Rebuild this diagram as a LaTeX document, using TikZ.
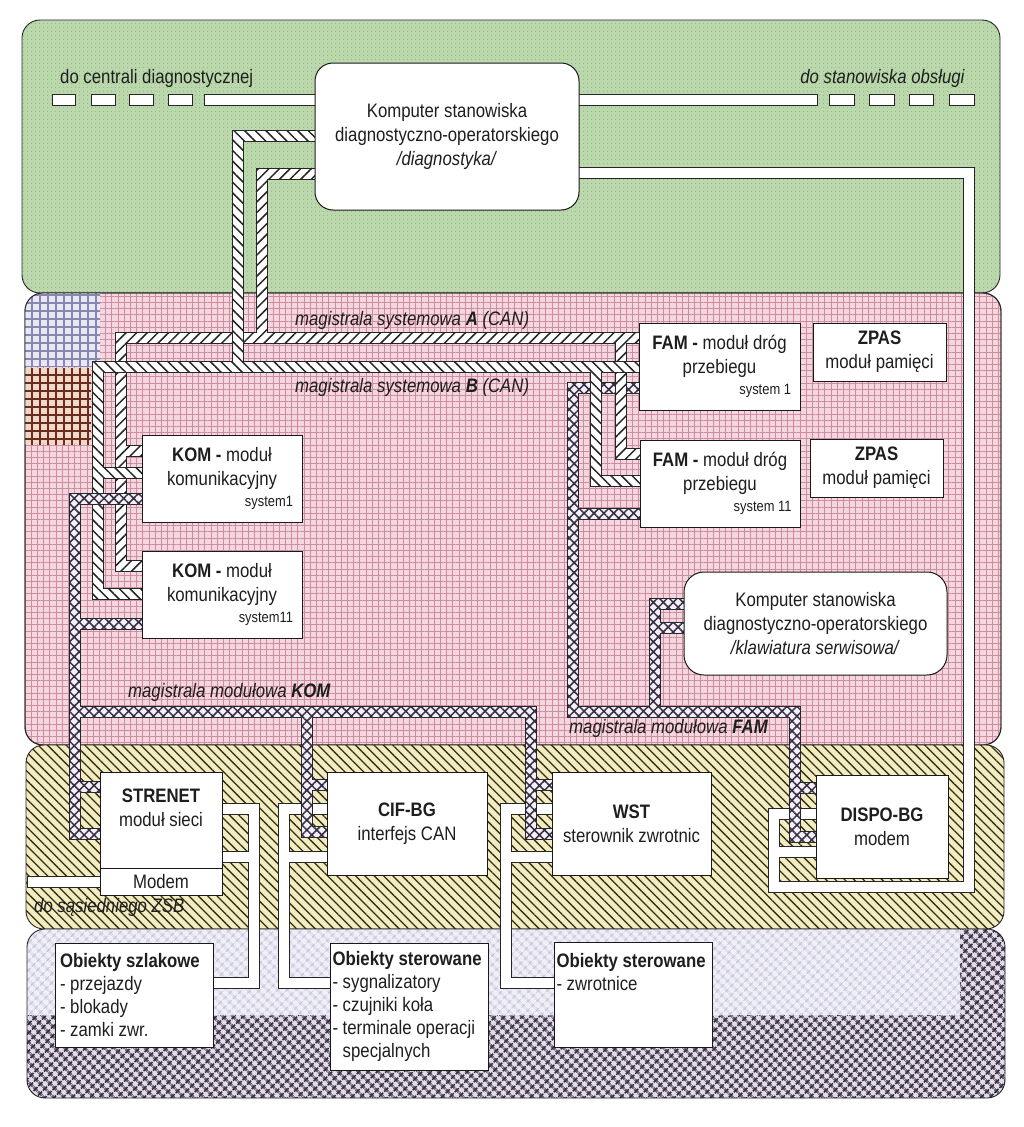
\documentclass[tikz,border=0pt]{standalone}
\usepackage{fontspec}
\setmainfont{Liberation Sans}[FakeStretch=0.86]
\usetikzlibrary{patterns.meta}
\definecolor{greenbg}{RGB}{186,216,172}
\definecolor{greendot}{RGB}{125,160,115}
\definecolor{pinkbg}{RGB}{243,214,222}
\definecolor{pinkgrid}{RGB}{205,140,160}
\definecolor{bluebg}{RGB}{232,232,245}
\definecolor{bluegrid}{RGB}{135,135,175}
\definecolor{brownbg}{RGB}{240,215,200}
\definecolor{browngrid}{RGB}{105,45,30}
\definecolor{yelbg}{RGB}{242,236,190}
\definecolor{yelline}{RGB}{50,45,30}
\definecolor{lightbg}{RGB}{240,239,247}
\definecolor{lightx}{RGB}{190,190,214}
\definecolor{darkbg}{RGB}{225,220,234}
\definecolor{darkx}{RGB}{55,45,62}
\definecolor{txt}{RGB}{30,30,30}
\definecolor{xbg}{RGB}{242,240,250}
\newcommand\fs{\fontsize{19.5}{24}\selectfont}
\newcommand\fso{\fontsize{19.5}{23}\selectfont}
\newcommand\fsm{\fontsize{15}{17}\selectfont}
\newcommand\rt{\mbox{}\hskip0pt plus1filll}
\newcommand\buspipe[2]{%
  \foreach \xa/\ya/\xb/\yb in {#2}{%
    \fill[pipeedge] ({min(\xa,\xb)-6},{min(\ya,\yb)-6}) rectangle ({max(\xa,\xb)+6},{max(\ya,\yb)+6});}%
  \foreach \xa/\ya/\xb/\yb in {#2}{%
    \fill[#1] ({min(\xa,\xb)-5},{min(\ya,\yb)-5}) rectangle ({max(\xa,\xb)+5},{max(\ya,\yb)+5});}%
}
\begin{document}
\begin{tikzpicture}[x=1pt,y=-1pt,
  layer/.style={draw=black!85, line width=0.9pt, rounded corners=18pt},
  pipeedge/.style={fill=black!85},
  pipeA/.style={preaction={fill=white}, pattern={Lines[angle=45,distance=7.5pt,line width=1.5pt]}, pattern color=black!85},
  pipeB/.style={preaction={fill=white}, pattern={Lines[angle=-45,distance=7.5pt,line width=1.5pt]}, pattern color=black!85},
  pipeX/.style={preaction={fill=xbg}, pattern={Hatch[angle=45,distance=7pt,line width=1.5pt]}, pattern color=darkx},
  pipeW/.style={fill=white},
  box/.style={draw=black!90, line width=1pt, fill=white, inner sep=0pt, align=flush center, font=\fs, text=txt},
  lbl/.style={inner sep=0pt, font=\fs, text=txt},
  bar/.style={draw=black!85, line width=0.9pt, fill=white}]
\fill[white] (0,0) rectangle (1024,1127);
\useasboundingbox (0,0) rectangle (1024,1127);
% layers
\path[layer, preaction={fill=greenbg}, pattern={Dots[distance=4pt,radius=0.5pt]}, pattern color=greendot] (22,20) rectangle (1000,293);
\path[layer, preaction={fill=pinkbg}, pattern={Hatch[angle=0,distance=6.2pt,line width=0.6pt]}, pattern color=pinkgrid] (25,293) rectangle (1001,745);
\begin{scope}
  \clip[rounded corners=18pt] (25,293) rectangle (1001,745);
  \path[preaction={fill=bluebg}, pattern={Hatch[angle=0,distance=8pt,line width=1.2pt]}, pattern color=bluegrid] (25,293) rectangle (100,366);
  \path[preaction={fill=brownbg}, pattern={Hatch[angle=0,distance=8pt,line width=1.2pt]}, pattern color=browngrid] (25,368) rectangle (91,444);
\end{scope}
\draw[layer] (25,293) rectangle (1001,745);
\path[layer, preaction={fill=yelbg}, pattern={Lines[angle=-45,distance=6.6pt,line width=1.3pt]}, pattern color=yelline] (26,745) rectangle (1004,929);
\begin{scope}
  \clip[rounded corners=18pt] (27,929) rectangle (1005,1098);
  \path[preaction={fill=darkbg}, pattern={Hatch[angle=45,distance=6.4pt,line width=2pt]}, pattern color=darkx] (27,929) rectangle (1005,1098);
  \path[preaction={fill=lightbg}, pattern={Hatch[angle=45,distance=6.4pt,line width=1pt]}, pattern color=lightx] (27,929) rectangle (960,1015);
\end{scope}
\draw[layer] (27,929) rectangle (1005,1098);
% dashed lines to outside
\foreach \a/\b in {52/75, 91/115, 129/153, 168/192, 204/318, 576/817, 829/854, 869/894, 909/933, 949/974}
  \draw[bar] (\a,94) rectangle (\b,105);
\node[lbl, anchor=base west] (lcentr) at (60,83) {do centrali diagnostycznej};
\node[lbl, anchor=base east] (lstan) at (965,83) {\textit{do stanowiska obsługi}};
% white links
\buspipe{pipeW}{579/173/969/173, 969/173/969/887, 969/887/774/887, 774/887/774/814, 774/814/816/814, 774/852/816/852}
\buspipe{pipeW}{222/809/254/809, 254/809/254/983, 254/983/213/983, 222/857/254/857}
\buspipe{pipeW}{327/809/284/809, 284/809/284/983, 284/983/330/983, 284/857/327/857}
\buspipe{pipeW}{552/809/506/809, 506/809/506/983, 506/983/554/983, 506/857/552/857}
\buspipe{pipeW}{100/882/33/882}
% FAM module bus
\buspipe{pipeX}{640/388/573/388, 573/388/573/712, 573/514/640/514, 573/712/795/712, 795/712/795/837, 795/837/816/837, 795/788/816/788, 655/712/655/604, 655/604/684/604, 655/628/684/628}
% system bus A
\buspipe{pipeA}{315/174/262/174, 262/174/262/338, 121/338/640/338, 121/338/121/566, 121/566/142/566, 121/451/142/451, 621/338/621/454, 621/454/640/454}
% system bus B
\buspipe{pipeB}{315/136/238/136, 238/136/238/367, 98/367/640/367, 98/367/98/594, 98/594/142/594, 98/473/142/473, 596/367/596/481, 596/481/640/481}
% KOM module bus
\buspipe{pipeX}{142/499/75/499, 75/499/75/834, 75/834/100/834, 75/787/100/787, 75/624/142/624, 75/712/531/712, 307/712/307/832, 307/832/327/832, 307/785/327/785, 531/712/531/834, 531/834/552/834, 531/785/552/785}
% boxes
\node[box, rounded corners=18pt, minimum width=264pt, minimum height=147pt] (komp) at (447,136.5) {Komputer stanowiska\\diagnostyczno-operatorskiego\\\textit{/diagnostyka/}};
\node[box, minimum width=161pt, minimum height=87pt, text width=143pt] (fam1) at (719.5,366.5) {\textbf{FAM -} moduł dróg\\przebiegu\\[-3pt]{\fsm\rt\mbox{system 1}}};
\node[box, minimum width=133pt, minimum height=58pt] (zpas1) at (879.5,352) {\textbf{ZPAS}\\moduł pamięci};
\node[box, minimum width=160pt, minimum height=87pt, text width=143pt] (fam11) at (720,483.5) {\textbf{FAM -} moduł dróg\\przebiegu\\[-3pt]{\fsm\rt\mbox{system 11}}};
\node[box, minimum width=133pt, minimum height=58pt] (zpas2) at (876.5,468) {\textbf{ZPAS}\\moduł pamięci};
\node[box, minimum width=160pt, minimum height=87pt, text width=142pt] (kom1) at (222,478.5) {\textbf{KOM -} moduł\\komunikacyjny\\[-3pt]{\fsm\rt\mbox{system1}}};
\node[box, minimum width=160pt, minimum height=87pt, text width=142pt] (kom11) at (222,594.5) {\textbf{KOM -} moduł\\komunikacyjny\\[-3pt]{\fsm\rt\mbox{system11}}};
\node[box, rounded corners=20pt, minimum width=263pt, minimum height=103pt] (komp2) at (815.5,623.5) {Komputer stanowiska\\diagnostyczno-operatorskiego\\\textit{/klawiatura serwisowa/}};
\node[box, minimum width=122pt, minimum height=96pt] (strenet) at (161,820) {\textbf{STRENET}\\moduł sieci\\\mbox{}};
\node[box, minimum width=122pt, minimum height=27pt] (modem) at (161,881.5) {Modem};
\node[box, minimum width=160pt, minimum height=103pt] (cif) at (407,823.5) {\textbf{CIF-BG}\\interfejs CAN};
\node[box, minimum width=159pt, minimum height=103pt] (wst) at (631.5,823.5) {\textbf{WST}\\sterownik zwrotnic};
\node[box, minimum width=132pt, minimum height=103pt] (dispo) at (882,826.5) {\textbf{DISPO-BG}\\modem};
\node[box, font=\fso, align=flush left, minimum width=158pt, minimum height=104pt, text width=148pt] (obsz) at (134,995) {\textbf{Obiekty szlakowe}\\- przejazdy\\- blokady\\- zamki zwr.};
\node[box, font=\fso, align=flush left, minimum width=158pt, minimum height=127pt, text width=153pt] (obst1) at (409,1006.5) {\textbf{Obiekty sterowane}\\- sygnalizatory\\- czujniki koła\\- terminale operacji\\\phantom{-}\ specjalnych};
\node[box, font=\fso, align=flush left, minimum width=158pt, minimum height=105pt, text width=153pt] (obst2) at (633,994.5) {\textbf{Obiekty sterowane}\\- zwrotnice\\\mbox{}\\\mbox{}};
% bus labels
\node[lbl, anchor=base west] (labA) at (295,325) {\textit{magistrala systemowa \textbf{A} (CAN)}};
\node[lbl, anchor=base west] (labB) at (295,392) {\textit{magistrala systemowa \textbf{B} (CAN)}};
\node[lbl, anchor=base west] (labK) at (128,697) {\textit{magistrala modułowa \textbf{KOM}}};
\node[lbl, anchor=base west] (labF) at (569,733) {\textit{magistrala modułowa \textbf{FAM}}};
\node[lbl, anchor=base west] (labZ) at (34,912) {\textit{do sąsiedniego ZSB}};
\end{tikzpicture}
\end{document}
